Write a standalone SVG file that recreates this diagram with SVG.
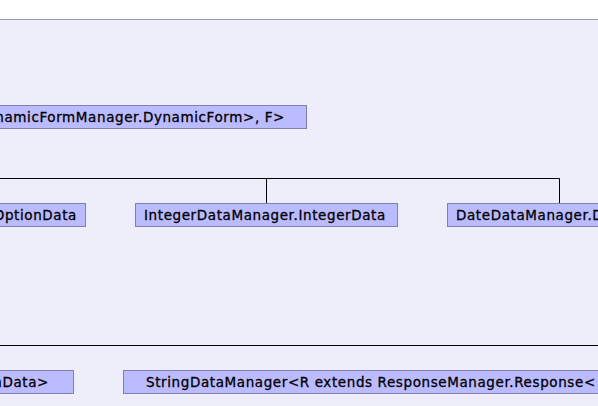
<svg xmlns="http://www.w3.org/2000/svg" width="598" height="406" viewBox="0 0 598 406">
<style>
.node rect{fill:#bbbbff;stroke:#8080b0;stroke-width:1}
.node text{font-family:"DejaVu Sans",sans-serif;font-size:13.5px;letter-spacing:0.6px;fill:#000;stroke:#000;stroke-width:0.3px}
.edges line{stroke:#000;stroke-width:1}
</style>
<rect x="0" y="0" width="598" height="406" fill="#ffffff"/>
<rect x="-2" y="19.5" width="602" height="390" fill="#eeeefb" stroke="#9c9cb0" stroke-width="1"/>
<g class="edges">
<line x1="0" y1="178.5" x2="559.5" y2="178.5"/>
<line x1="266.5" y1="178.5" x2="266.5" y2="203.5"/>
<line x1="559.5" y1="178.5" x2="559.5" y2="203.5"/>
<line x1="0" y1="345.5" x2="598" y2="345.5"/>
</g>
<g id="dynamicform" class="node">
<rect x="-10" y="105.5" width="316.5" height="23"/>
<text x="285" y="121.5" text-anchor="end">namicFormManager.DynamicForm&gt;, F&gt;</text>
</g>
<g id="optiondata" class="node">
<rect x="-10" y="203.5" width="95.5" height="23"/>
<text x="77" y="219.5" text-anchor="end">OptionData</text>
</g>
<g id="integerdata" class="node">
<rect x="135.5" y="203.5" width="262" height="23"/>
<text x="144" y="219.5">IntegerDataManager.IntegerData</text>
</g>
<g id="datedata" class="node">
<rect x="447.5" y="203.5" width="160" height="23"/>
<text x="456" y="219.5">DateDataManager.D</text>
</g>
<g id="optiondatamanager" class="node">
<rect x="-10" y="370.5" width="83.5" height="23"/>
<text x="49" y="386.5" text-anchor="end">nData&gt;</text>
</g>
<g id="stringdatamanager" class="node">
<rect x="123.5" y="370.5" width="490" height="23"/>
<text x="146" y="386.5">StringDataManager&lt;R extends ResponseManager.Response&lt;</text>
</g>
</svg>
